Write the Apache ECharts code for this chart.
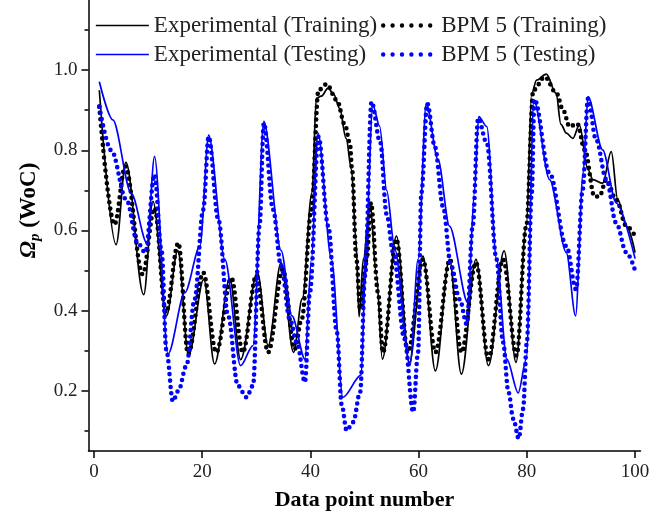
<!DOCTYPE html>
<html>
<head>
<meta charset="utf-8">
<script src="https://cdn.jsdelivr.net/npm/echarts@6/dist/echarts.min.js"></script>
<style>html,body{margin:0;padding:0;background:#fff}#c{width:659px;height:516px}</style>
</head>
<body>
<div id="c"></div>
<script>
// ---- data ----
var expTrainX = [1.0, 4.1, 5.9, 9.2, 10.9, 13.4, 15.5, 17.5, 20.3, 22.3, 25.1, 27.1, 30.2, 32.2, 34.6, 36.9, 38.5, 40.3, 41.1, 42.0, 43.3, 44.3, 45.4, 46.6, 47.6, 48.4, 49.0, 49.8, 51.0, 52.2, 53.3, 55.9, 58.3, 60.8, 63.1, 65.7, 67.9, 70.6, 72.9, 75.8, 78.0, 79.9, 80.9, 81.8, 83.6, 85.4, 86.3, 87.3, 88.5, 89.7, 91.3, 92.2, 94.0, 95.6, 96.8, 98.4, 100];
var expTrainY = [0.95, 0.565, 0.77, 0.44, 0.673, 0.387, 0.55, 0.29, 0.478, 0.267, 0.48, 0.278, 0.495, 0.313, 0.52, 0.296, 0.43, 0.694, 0.93, 0.935, 0.955, 0.94, 0.905, 0.83, 0.752, 0.58, 0.385, 0.53, 0.669, 0.49, 0.279, 0.586, 0.271, 0.536, 0.25, 0.528, 0.242, 0.528, 0.263, 0.549, 0.271, 0.611, 0.942, 0.975, 0.99, 0.942, 0.865, 0.843, 0.83, 0.863, 0.752, 0.727, 0.718, 0.797, 0.677, 0.611, 0.545];

var bpmTrainX = [1.0, 3.8, 5.8, 9.0, 11.2, 13.3, 15.6, 17.4, 20.2, 22.6, 25.4, 27.5, 30.0, 32.2, 34.9, 37.1, 38.4, 40.2, 41.5, 43.0, 44.9, 46.4, 47.3, 47.7, 48.5, 49.2, 50.4, 51.2, 52.5, 53.4, 55.9, 58.0, 60.8, 63.1, 65.8, 67.9, 70.6, 72.9, 75.6, 78.1, 79.9, 81.2, 83.3, 85.5, 86.7, 87.9, 89.3, 90.7, 92.5, 93.4, 94.7, 96.5, 98.4, 100];
var bpmTrainY = [0.909, 0.615, 0.76, 0.491, 0.656, 0.395, 0.569, 0.292, 0.495, 0.296, 0.482, 0.296, 0.487, 0.296, 0.503, 0.304, 0.379, 0.652, 0.95, 0.965, 0.925, 0.863, 0.818, 0.752, 0.528, 0.404, 0.528, 0.669, 0.445, 0.296, 0.578, 0.296, 0.528, 0.296, 0.528, 0.296, 0.52, 0.279, 0.528, 0.288, 0.611, 0.95, 0.983, 0.942, 0.90, 0.859, 0.867, 0.801, 0.685, 0.685, 0.727, 0.677, 0.611, 0.586];

var expTestX = [1.0, 3.5, 6.9, 9.8, 11.2, 13.7, 16.8, 19.6, 21.2, 24.2, 27.1, 29.4, 31.4, 34.6, 36.6, 39.0, 40.2, 41.4, 43.9, 46.0, 49.4, 50.4, 51.5, 52.8, 54.1, 55.6, 58.4, 59.9, 61.4, 63.6, 65.7, 69.1, 70.3, 71.1, 72.6, 74.4, 76.3, 78.4, 79.9, 81.3, 84.2, 87.3, 89.0, 90.4, 91.3, 94.0, 96.5, 100];
var expTestY = [0.971, 0.876, 0.693, 0.569, 0.785, 0.292, 0.445, 0.561, 0.838, 0.528, 0.263, 0.313, 0.872, 0.55, 0.387, 0.279, 0.528, 0.843, 0.528, 0.184, 0.240, 0.611, 0.915, 0.86, 0.70, 0.553, 0.263, 0.528, 0.917, 0.776, 0.611, 0.42, 0.694, 0.884, 0.859, 0.528, 0.279, 0.195, 0.279, 0.925, 0.727, 0.545, 0.387, 0.743, 0.934, 0.801, 0.669, 0.53];

var bpmTestX = [1.0, 3.2, 6.0, 8.1, 9.5, 11.2, 12.5, 13.4, 14.6, 15.6, 17.1, 18.6, 20.2, 21.2, 23.0, 24.8, 26.6, 28.2, 29.4, 30.6, 31.4, 33.1, 34.6, 36.2, 37.5, 39.0, 39.9, 41.5, 43.3, 44.9, 45.8, 46.7, 47.9, 49.2, 50.1, 51.3, 52.9, 54.1, 55.3, 57.4, 59.0, 59.9, 60.5, 61.6, 63.0, 64.5, 66.0, 67.6, 68.9, 70.0, 71.0, 72.6, 74.4, 75.6, 76.6, 77.5, 78.5, 79.3, 80.0, 80.9, 81.4, 84.2, 87.3, 89.1, 90.3, 91.3, 92.8, 94.7, 96.5, 98.4, 100];
var bpmTestY = [0.909, 0.80, 0.677, 0.569, 0.545, 0.739, 0.55, 0.30, 0.174, 0.20, 0.263, 0.428, 0.652, 0.834, 0.627, 0.387, 0.213, 0.184, 0.213, 0.611, 0.868, 0.652, 0.511, 0.379, 0.321, 0.222, 0.445, 0.834, 0.611, 0.346, 0.164, 0.101, 0.122, 0.197, 0.487, 0.921, 0.82, 0.64, 0.545, 0.329, 0.147, 0.296, 0.694, 0.917, 0.809, 0.66, 0.511, 0.428, 0.366, 0.611, 0.88, 0.818, 0.528, 0.321, 0.197, 0.13, 0.081, 0.155, 0.321, 0.694, 0.927, 0.743, 0.561, 0.453, 0.70, 0.929, 0.826, 0.727, 0.619, 0.545, 0.50];

var xMajorTicks = [0, 20, 40, 60, 80, 100];
var xMinorTicks = [10, 30, 50, 70, 90];
var yMajorTicks = [0.2, 0.4, 0.6, 0.8, 1.0];
var yMinorTicks = [0.1, 0.3, 0.5, 0.7, 0.9, 1.1];

var seriesNames = ['Experimental (Training)', 'BPM 5 (Training)', 'Experimental (Testing)', 'BPM 5 (Testing)'];

function pairs(xs, ys) { return xs.map(function (x, i) { return [x, ys[i]]; }); }

var FONT = '"Liberation Serif", "Times New Roman", serif';
var X_MIN = -1, X_MAX = 101, Y_MIN = 0.05, Y_MAX = 1.175;
var BLACK = '#000000', BLUE = '#0000ff';

function xAx(ticks, len, labels) {
  return {
    type: 'value', min: X_MIN, max: X_MAX, gridIndex: 0,
    axisLine: { show: !!labels, lineStyle: { color: '#000', width: 1.5 } },
    axisTick: { show: true, length: len, customValues: ticks, lineStyle: { color: '#000', width: 1.5 } },
    axisLabel: labels ? { show: true, customValues: ticks, margin: 12, color: '#222', fontFamily: FONT, fontSize: 19 } : { show: false },
    splitLine: { show: false },
    name: labels ? 'Data point number' : '',
    nameLocation: 'middle', nameGap: 38,
    nameTextStyle: { fontFamily: FONT, fontSize: 22, fontWeight: 'bold', color: '#000' }
  };
}
function yAx(ticks, len, labels) {
  return {
    type: 'value', min: Y_MIN, max: Y_MAX, gridIndex: 0, position: 'left',
    axisLine: { show: !!labels, onZero: false, lineStyle: { color: '#000', width: 1.5 } },
    axisTick: { show: true, length: len, customValues: ticks, lineStyle: { color: '#000', width: 1.5 } },
    axisLabel: labels ? { show: true, customValues: ticks, margin: 11, color: '#222', fontFamily: FONT, fontSize: 19,
      formatter: function (v) { return v.toFixed(1); } } : { show: false },
    splitLine: { show: false },
    name: labels ? '{o|Ω}{p|p}{t| (WoC)}' : '',
    nameLocation: 'middle', nameGap: 45, nameRotate: 90,
    nameTextStyle: {
      padding: [0, 0, 0, 30],
      rich: {
        o: { fontFamily: FONT, fontSize: 23, fontWeight: 'bold', fontStyle: 'italic', color: '#000' },
        p: { fontFamily: FONT, fontSize: 15, fontWeight: 'bold', fontStyle: 'italic', color: '#000', verticalAlign: 'bottom', padding: [12, 0, 0, 0] },
        t: { fontFamily: FONT, fontSize: 23, fontWeight: 'bold', color: '#000' }
      }
    }
  };
}

function solid(c) { return { color: c, width: 1.7 }; }
function dots(c) { return { color: c, width: 4.6, type: [0, 6.4], cap: 'round' }; }
function legendDots(c) { return { color: c, width: 4.4, type: [0, 9.4], cap: 'round' }; }

function legendCol(left, items) {
  return {
    data: items, orient: 'vertical', left: left, top: 14, padding: 0,
    itemWidth: 53, itemHeight: 14, itemGap: 6,
    itemStyle: { opacity: 0, borderWidth: 0 },
    textStyle: { fontFamily: FONT, fontSize: 23, color: '#222', lineHeight: 22 }
  };
}

var option = {
  animation: false,
  backgroundColor: '#fff',
  grid: { left: 88.5, right: 18.5, top: 0, bottom: 64, containLabel: false },
  xAxis: [xAx(xMajorTicks, 7, true), xAx(xMinorTicks, 4, false)],
  yAxis: [yAx(yMajorTicks, 7, true), yAx(yMinorTicks, 4, false)],
  legend: [
    legendCol(95, [
      { name: seriesNames[0], lineStyle: solid(BLACK) },
      { name: seriesNames[2], lineStyle: solid(BLUE) }
    ]),
    legendCol(381, [
      { name: seriesNames[1], lineStyle: legendDots(BLACK) },
      { name: seriesNames[3], lineStyle: legendDots(BLUE) }
    ])
  ],
  series: [
    { name: seriesNames[0], type: 'line', data: pairs(expTrainX, expTrainY), symbol: 'none', smooth: 0.35, smoothMonotone: 'x', color: BLACK, lineStyle: solid(BLACK) },
    { name: seriesNames[1], type: 'line', data: pairs(bpmTrainX, bpmTrainY), symbol: 'none', smooth: 0.35, smoothMonotone: 'x', color: BLACK, lineStyle: dots(BLACK) },
    { name: seriesNames[2], type: 'line', data: pairs(expTestX, expTestY), symbol: 'none', smooth: 0.3, smoothMonotone: 'x', color: BLUE, lineStyle: solid(BLUE) },
    { name: seriesNames[3], type: 'line', data: pairs(bpmTestX, bpmTestY), symbol: 'none', smooth: 0.35, smoothMonotone: 'x', color: BLUE, lineStyle: dots(BLUE) }
  ]
};
echarts.init(document.getElementById('c'), null, { renderer: 'canvas' }).setOption(option);
</script>
</body>
</html>
